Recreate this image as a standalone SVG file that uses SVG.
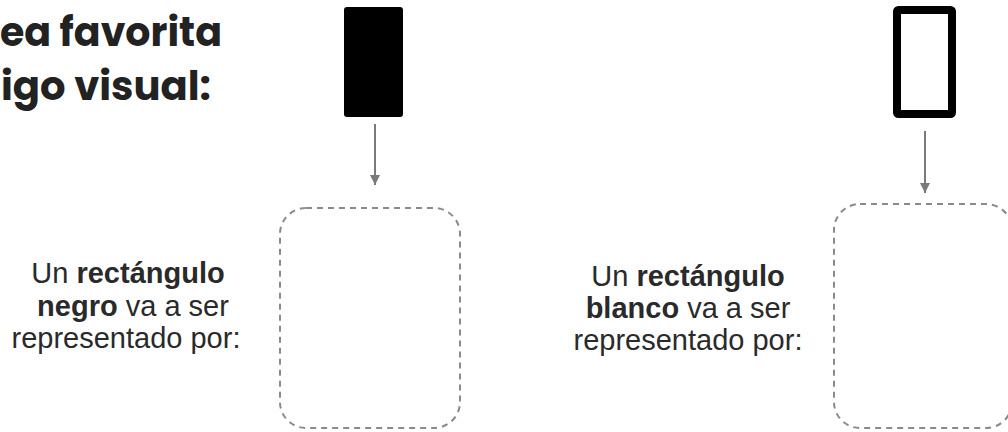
<svg xmlns="http://www.w3.org/2000/svg" width="1008" height="432" viewBox="0 0 1008 432">
<style>
.title{font-family:Poppins,Inter,"Noto Sans",sans-serif;font-weight:700;font-size:41px;fill:#222}
.lbl{font-family:"Liberation Sans",Arial,sans-serif;font-size:29px;fill:#2a2a2a;text-anchor:middle}
.b{font-weight:700}
.dash{fill:none;stroke:#8a8a8a;stroke-width:2;stroke-dasharray:6 5}
.conn{stroke:#7a7a7a;stroke-width:2;fill:none}
</style>
<defs>
<marker id="ah" viewBox="0 0 10 10" refX="10" refY="5" markerWidth="5" markerHeight="5" orient="auto" markerUnits="strokeWidth">
<path d="M0,0 L10,5 L0,10 z" fill="#7a7a7a"/>
</marker>
</defs>
<rect width="1008" height="432" fill="#fff"/>
<g id="title">
<text class="title" x="0" y="46" textLength="222" lengthAdjust="spacingAndGlyphs">ea favorita</text>
<text class="title" x="1" y="100" textLength="210" lengthAdjust="spacingAndGlyphs">igo visual:</text>
</g>
<g id="black-rect"><rect x="344" y="7" width="59" height="110" rx="3" fill="#000"/></g>
<g id="white-rect"><rect x="897" y="10" width="55" height="104" rx="1.5" fill="#fff" stroke="#000" stroke-width="8"/></g>
<g id="box1"><rect class="dash" x="280" y="208" width="180" height="220" rx="26"/></g>
<g id="box2"><rect class="dash" x="834" y="204" width="178" height="224" rx="26"/></g>
<g id="label1">
<text class="lbl" x="128" y="283">Un <tspan class="b">rectángulo</tspan></text>
<text class="lbl" x="133" y="316"><tspan class="b">negro</tspan> va a ser</text>
<text class="lbl" x="126" y="348">representado por:</text>
</g>
<g id="label2">
<text class="lbl" x="688" y="286">Un <tspan class="b">rectángulo</tspan></text>
<text class="lbl" x="688" y="318"><tspan class="b">blanco</tspan> va a ser</text>
<text class="lbl" x="688" y="350">representado por:</text>
</g>
<g id="connectors">
<line class="conn" x1="375" y1="124" x2="375" y2="185" marker-end="url(#ah)"/>
<line class="conn" x1="925" y1="131" x2="925" y2="193" marker-end="url(#ah)"/>
</g>
</svg>
